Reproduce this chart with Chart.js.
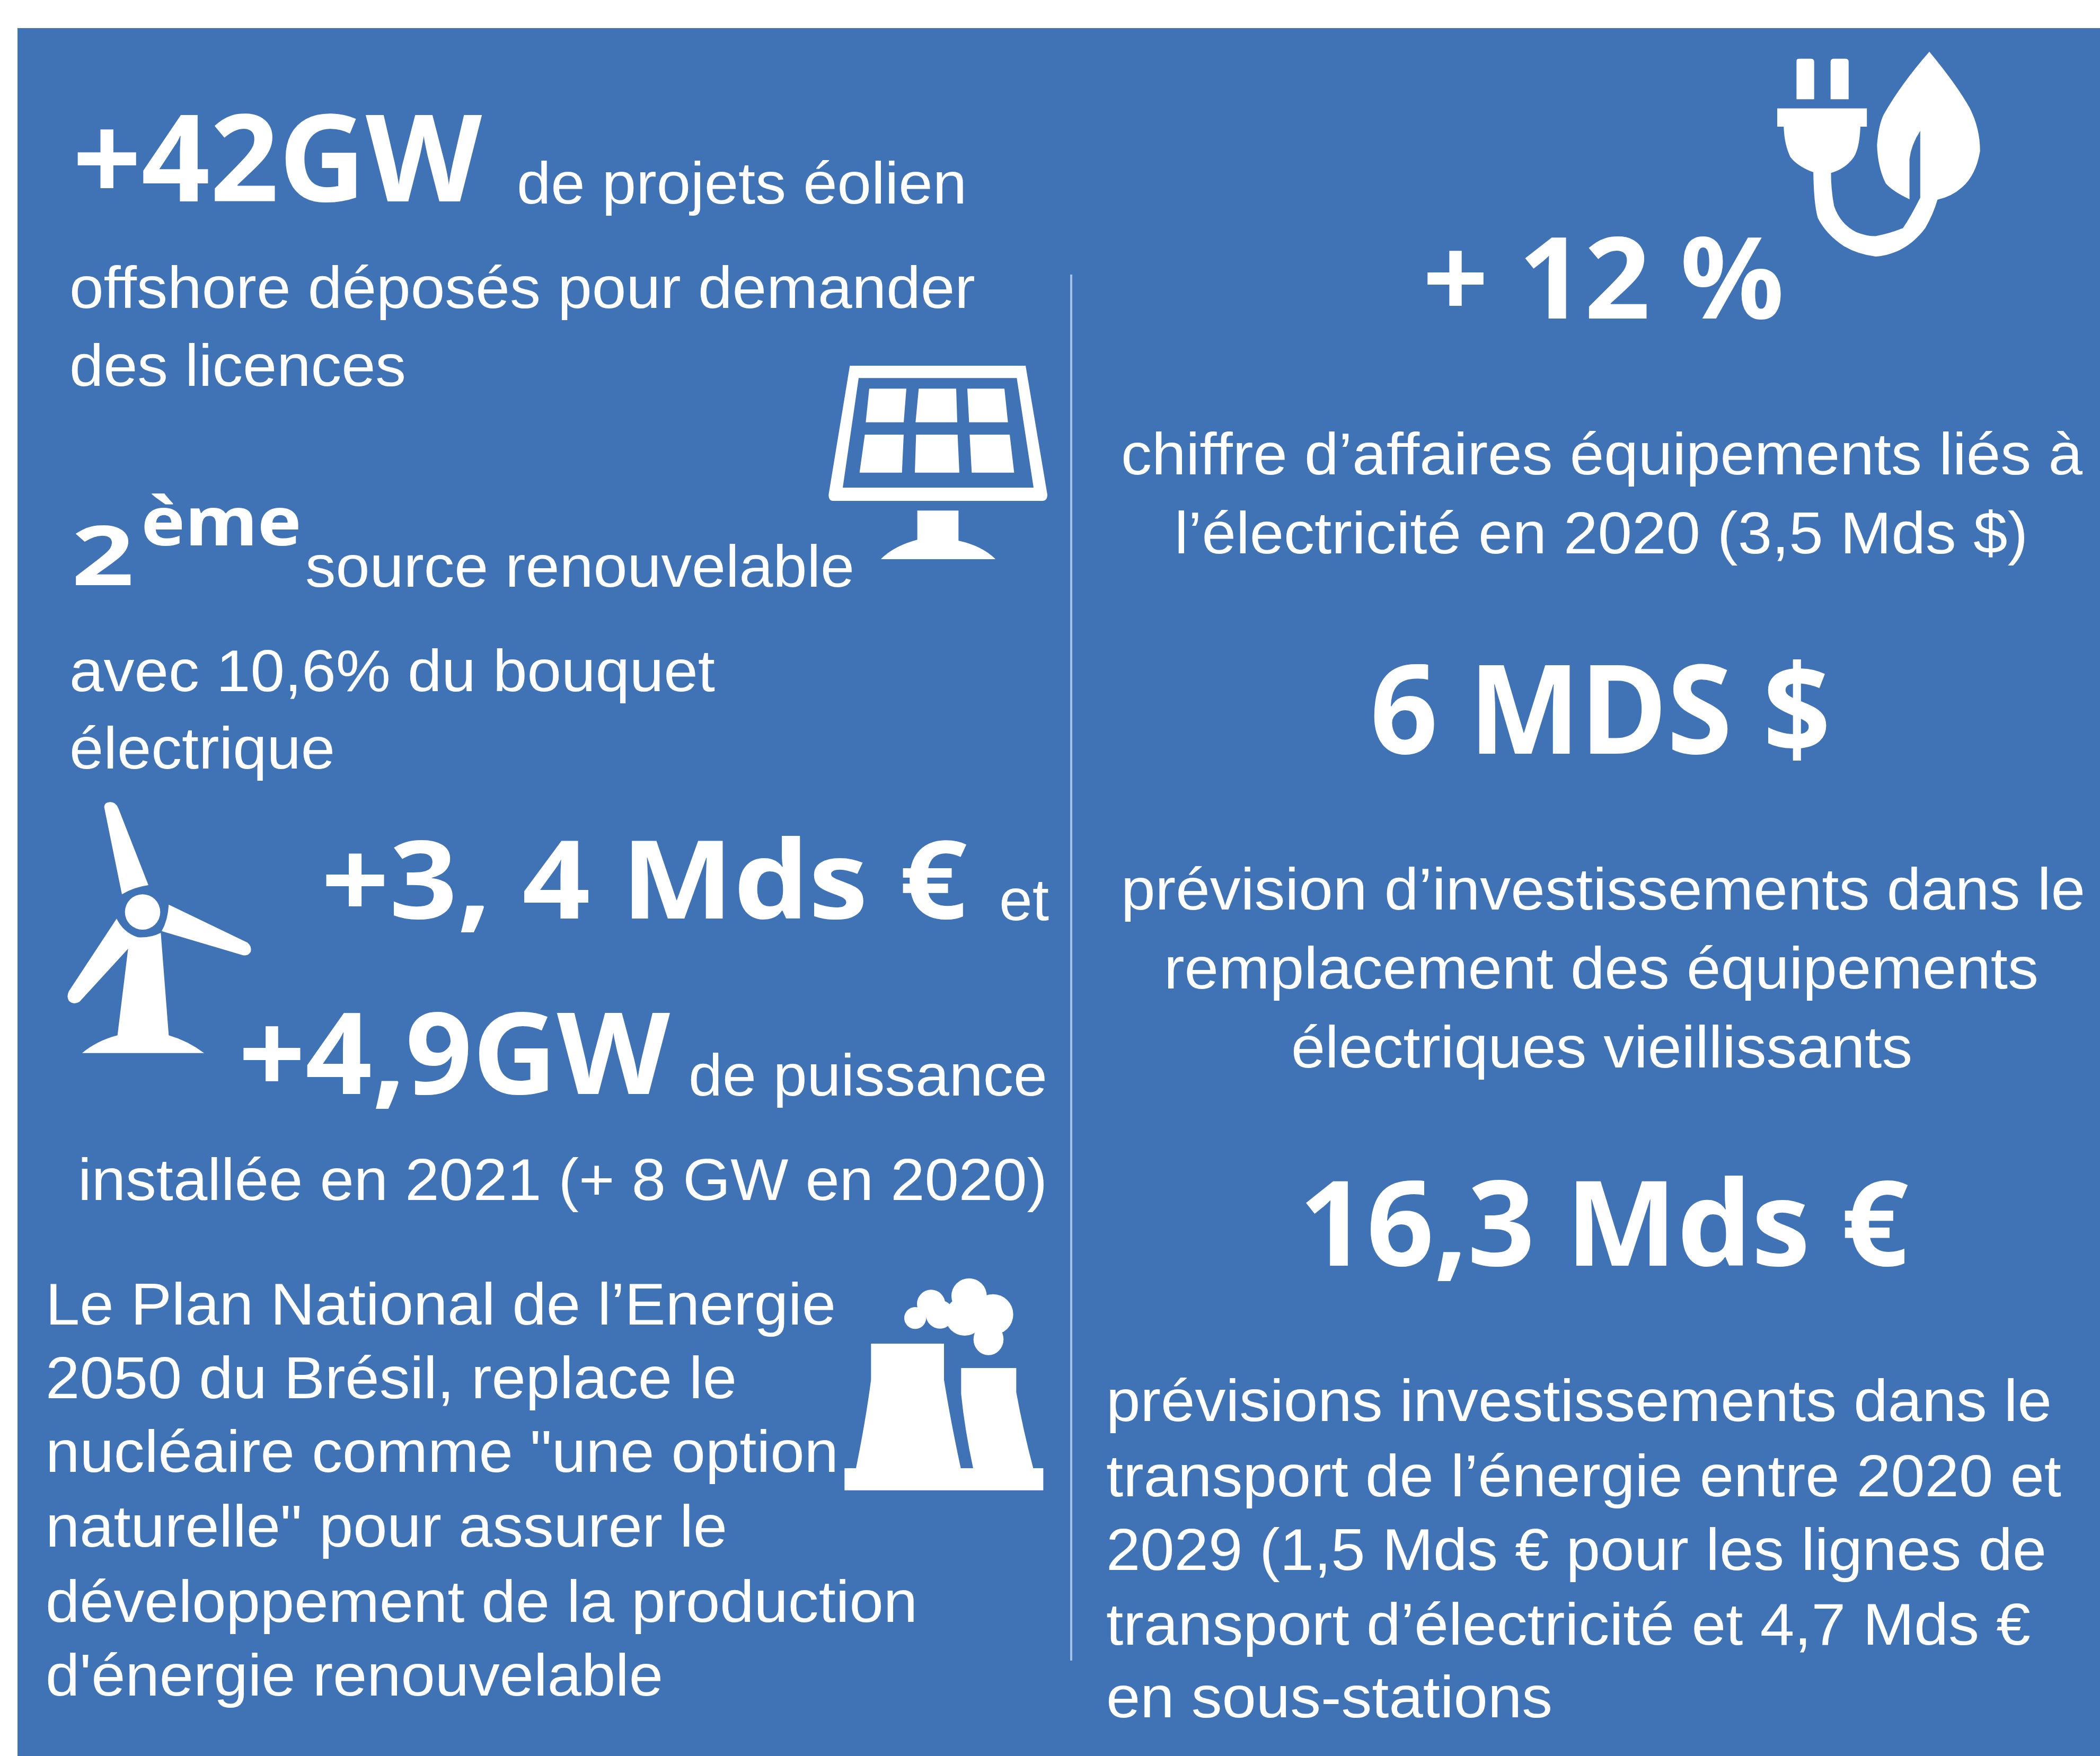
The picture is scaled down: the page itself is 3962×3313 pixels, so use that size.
<!DOCTYPE html>
<html lang="fr">
<head>
<meta charset="utf-8">
<title>Energie Brésil</title>
<script src="https://cdn.jsdelivr.net/npm/chart.js@4"></script>
<style>
  html, body { margin: 0; padding: 0; background: #fff; }
  canvas { display: block; }
</style>
</head>
<body>
<canvas id="chart" width="3962" height="3313"></canvas>
<script>
'use strict';

// the picture has no series, only key figures and captions
const figures = ['+42GW', '2', 'ème', '+3, 4 Mds €', '+4,9GW', '+ 12 %', '6 MDS $', '16,3 Mds €'];
const leftCaptions = [
  'de projets éolien',
  'offshore déposés pour demander',
  'des licences',
  'source renouvelable',
  'avec 10,6% du bouquet',
  'électrique',
  'et',
  'de puissance',
  'installée en 2021 (+ 8 GW en 2020)'
];
const nuclearCaptions = [
  'Le Plan National de l’Energie',
  '2050 du Brésil, replace le',
  'nucléaire comme "une option',
  'naturelle" pour assurer le',
  'développement de la production',
  "d'énergie renouvelable"
];
const rightCaptions = [
  'chiffre d’affaires équipements liés à',
  'l’électricité en 2020 (3,5 Mds $)',
  'prévision d’investissements dans le',
  'remplacement des équipements',
  'électriques vieillissants',
  'prévisions investissements dans le',
  'transport de l’énergie entre 2020 et',
  '2029 (1,5 Mds € pour les lignes de',
  'transport d’électricité et 4,7 Mds €',
  'en sous-stations'
];

// layout, in full size pixels: left, right, baseline, font size
const figureBoxes = [
  [137, 909, 380, 228],
  [135, 253, 1104, 156],
  [266, 569, 1029, 128],
  [606, 1825, 1733, 205],
  [450, 1264, 2064, 213],
  [2684, 3366, 601, 213],
  [2585, 3454, 1422, 233],
  [2451, 3601, 2388, 223]
];
const leftBoxes = [
  [975, 1824, 384], [131, 1840, 581], [131, 766, 728], [576, 1612, 1107],
  [131, 1349, 1304], [131, 632, 1450], [1885, 1979, 1736], [1299, 1976, 2067],
  [147, 1976, 2264]
];
const nuclearBoxes = [
  [86, 1577, 2499], [86, 1390, 2638], [86, 1582, 2777],
  [86, 1372, 2918], [86, 1731, 3060], [86, 1251, 3199]
];
const rightBoxes = [
  [2115, 3929, 895], [2216, 3826, 1044], [2115, 3934, 1716], [2196, 3846, 1865],
  [2436, 3608, 2014], [2087, 3871, 2681], [2087, 3889, 2823], [2087, 3861, 2962],
  [2087, 3831, 3103], [2087, 2929, 3240]
];
const captionSize = 112;

const panelColor = '#4072b6';
const dividerX = [2021, 2021];
const dividerY = [518, 3133];

// icons: left, top, scale, shapes
const icons = [
  {
    x: 3200, y: 40, s: 600 / 1568,
    paths: [
      'M495 195Q495 185 510 185L565 185Q582 185 582 200L582 385L495 385Z',
      'M663 200Q663 185 680 185L735 185Q752 185 752 200L752 385L663 385Z',
      'M400 430L842 430L842 520L810 520Q805 640 770 680Q730 730 665 748Q665 830 680 910Q710 1000 790 1040Q840 1060 885 1060Q960 1045 1020 1020Q1060 960 1105 870L1105 540Q1060 610 1052 680L1052 878Q970 840 935 800Q895 720 892 610Q900 510 925 460Q1010 310 1150 150Q1290 320 1350 430Q1400 530 1400 640Q1380 760 1310 820Q1260 865 1190 880Q1170 950 1130 1020Q1070 1100 990 1135Q930 1160 885 1160Q800 1150 730 1110Q640 1050 600 970Q580 900 578 745Q500 715 465 670Q435 610 432 520L400 520Z'
    ]
  },
  {
    x: 1500, y: 650, s: 1 / 3,
    paths: [
      'M310 120L1305 120L1428 850Q1428 885 1400 885L215 885Q190 885 190 850ZM360 190L270 810L1350 810L1255 190Z',
      'M420 250L630 250L615 440L400 440Z', 'M700 250L912 250L918 440L682 440Z', 'M975 250L1185 250L1205 440L985 440Z',
      'M395 510L615 510L605 725L365 725Z', 'M685 510L920 510L930 725L678 725Z', 'M988 510L1215 510L1240 725L1000 725Z',
      'M692 940L925 940L925 1110Q1060 1140 1135 1215L485 1215Q560 1140 692 1105Z'
    ]
  },
  {
    x: 100, y: 1480, s: 1 / 3,
    paths: [
      'M290 130Q290 100 325 100Q355 100 370 135L540 570Q460 580 390 622Z',
      'M407 722A100 100 0 1 0 607 722A100 100 0 1 0 407 722Z',
      'M655 680L1100 895Q1125 915 1120 945Q1105 975 1070 965L615 830Q650 770 655 680Z',
      'M360 760Q400 840 480 865Q550 870 610 840L655 1420Q760 1450 855 1520L165 1520Q250 1450 365 1420L425 930L150 1230Q115 1250 90 1225Q75 1200 90 1170Z'
    ]
  },
  {
    x: 1580, y: 2380, s: 1 / 3,
    paths: [
      'M190 465L603 465L603 670Q640 900 698 1170L768 1170Q720 950 700 750L700 603L1012 603L1012 740Q1050 950 1108 1170L1165 1170L1165 1295L40 1295L40 1170L105 1170Q160 900 190 670Z',
      'M378 320A62 62 0 1 0 502 320A62 62 0 1 0 378 320Z',
      'M450 240A80 80 0 1 0 610 240A80 80 0 1 0 450 240Z',
      'M645 195A100 100 0 1 0 845 195A100 100 0 1 0 645 195Z',
      'M610 310A110 110 0 1 0 830 310A110 110 0 1 0 610 310Z',
      'M765 300A115 115 0 1 0 995 300A115 115 0 1 0 765 300Z',
      'M770 440A85 90 0 1 0 940 440A85 90 0 1 0 770 440Z',
      'M500 300A60 60 0 1 0 660 300A60 60 0 1 0 500 300Z'
    ]
  }
];

// draws text so that it spans exactly left to right
function fitText(ctx, text, left, right, baseline) {
  const natural = ctx.measureText(text).width;
  ctx.save();
  ctx.translate(left, baseline);
  ctx.scale((right - left) / natural, 1);
  ctx.fillText(text, 0, 0);
  ctx.restore();
}

const infographic = {
  id: 'infographic',
  beforeDatasetsDraw(chart) {
    const ctx = chart.ctx;
    ctx.save();
    ctx.fillStyle = panelColor;
    ctx.fillRect(33, 53, chart.width - 33, chart.height - 53);
    ctx.restore();
  },
  afterDatasetsDraw(chart) {
    const ctx = chart.ctx;
    ctx.save();
    ctx.fillStyle = '#ffffff';
    ctx.textBaseline = 'alphabetic';

    figures.forEach((text, i) => {
      const b = figureBoxes[i];
      ctx.font = 'bold ' + b[3] + 'px "Noto Sans"';
      fitText(ctx, text, b[0], b[1], b[2]);
    });

    ctx.font = captionSize + 'px "Liberation Sans"';
    [[leftCaptions, leftBoxes], [nuclearCaptions, nuclearBoxes], [rightCaptions, rightBoxes]].forEach(group => {
      group[0].forEach((text, i) => {
        const b = group[1][i];
        fitText(ctx, text, b[0], b[1], b[2]);
      });
    });

    icons.forEach(icon => {
      ctx.save();
      ctx.translate(icon.x, icon.y);
      ctx.scale(icon.s, icon.s);
      icon.paths.forEach(d => ctx.fill(new Path2D(d), 'evenodd'));
      ctx.restore();
    });
    ctx.restore();
  }
};

new Chart(document.getElementById('chart'), {
  type: 'scatter',
  data: {
    datasets: [{
      data: dividerX.map((x, i) => ({ x: x, y: dividerY[i] })),
      showLine: true,
      borderColor: '#a9c1e0',
      borderWidth: 4,
      pointRadius: 0
    }]
  },
  options: {
    responsive: false,
    animation: false,
    devicePixelRatio: 1,
    layout: { padding: 0 },
    plugins: { legend: { display: false }, tooltip: { enabled: false } },
    scales: {
      x: { type: 'linear', display: false, min: 0, max: 3962 },
      y: { type: 'linear', display: false, min: 0, max: 3313, reverse: true }
    }
  },
  plugins: [infographic]
});
</script>
</body>
</html>
